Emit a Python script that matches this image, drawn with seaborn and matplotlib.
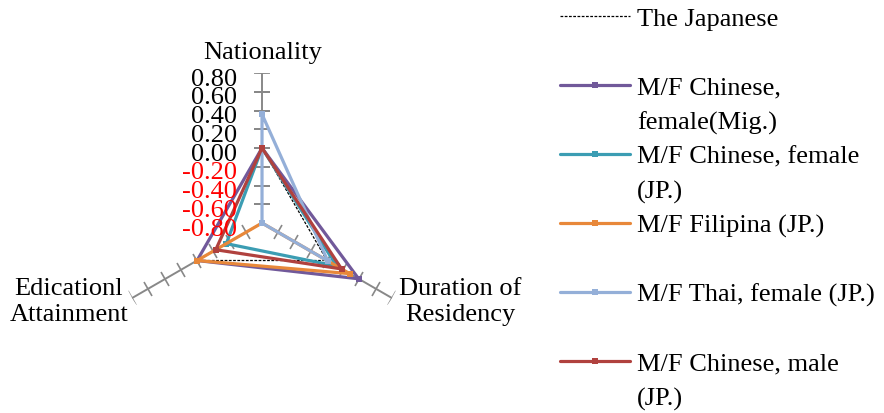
import numpy as np
import matplotlib.pyplot as plt
import seaborn as sns
from matplotlib.lines import Line2D
from matplotlib.markers import MarkerStyle
from matplotlib.transforms import Affine2D

# axes of the radar, in drawing order (clockwise from the top)
categories = ['Nationality', 'Duration of\nResidency', 'Edicationl\nAttainment']
tick_values = [-0.8, -0.6, -0.4, -0.2, 0.0, 0.2, 0.4, 0.6, 0.8]
tick_labels = ['-0.80', '-0.60', '-0.40', '-0.20', '0.00', '0.20', '0.40', '0.60', '0.80']

# values per series: Nationality, Duration of Residency, Educational Attainment
japanese = [0.0, 0.0, 0.0]
chinese_f_mig = [0.0, 0.39, 0.0]
chinese_f_jp = [0.0, 0.12, -0.36]
filipina_jp = [-0.8, 0.28, 0.0]
thai_f_jp = [0.36, 0.01, -0.8]
chinese_m_jp = [0.0, 0.18, -0.23]

series_values = [japanese, chinese_f_mig, chinese_f_jp, filipina_jp, thai_f_jp, chinese_m_jp]
series_colors = ['black', '#71599A', '#3B9DB3', '#E8883A', '#94AFD8', '#B0413E']
# legend rows (first line, second line or blank)
legend_rows = [
    ('The Japanese', ' '),
    ('M/F Chinese,', 'female(Mig.)'),
    ('M/F Chinese, female', '(JP.)'),
    ('M/F Filipina (JP.)', ' '),
    ('M/F Thai, female (JP.)', ' '),
    ('M/F Chinese, male', '(JP.)'),
]

sns.set_style('white')
plt.rcParams['font.family'] = ['Liberation Serif', 'DejaVu Serif']
plt.rcParams['text.color'] = 'black'

gray = '#888888'
fig = plt.figure(figsize=(8.84, 4.14), dpi=100)
ax = fig.add_axes([0.1267, 0.0966, 0.3394, 0.7246], projection='polar')
ax.set_theta_offset(np.pi / 2)
ax.set_theta_direction(-1)
ax.patch.set_visible(False)

angles = np.linspace(0, 2 * np.pi, len(categories), endpoint=False)
closed_angles = list(angles) + [2 * np.pi]

# spokes with perpendicular tick marks
for i, th in enumerate(angles):
    ax.plot([th, th], [tick_values[0], tick_values[-1]], color=gray, lw=1.4, zorder=1)
    tick_marker = MarkerStyle('_', transform=Affine2D().rotate_deg(-120 * i))
    ax.plot([th] * (len(tick_values) - 1), tick_values[1:], ls='none', marker=tick_marker,
            ms=11.5, mew=1.2, color=gray, zorder=1)

handles = []
for vals, color in zip(series_values, series_colors):
    closed = list(vals) + [vals[0]]
    if color == 'black':
        sns.lineplot(x=closed_angles, y=closed, ax=ax, sort=False, estimator=None,
                     color=color, linewidth=0.9, linestyle=(0, (2.2, 1.2)), zorder=2)
    else:
        sns.lineplot(x=closed_angles, y=closed, ax=ax, sort=False, estimator=None,
                     color=color, linewidth=2.3, marker='s', markersize=5,
                     markeredgewidth=0, zorder=3)
    handles.append(ax.lines[-1])

ax.set_ylim(tick_values[0], tick_values[-1])
ax.grid(False)
ax.spines['polar'].set_visible(False)
ax.set_xticks([])
ax.set_yticks([])
ax.set_xlabel('')
ax.set_ylabel('')

# radial value labels left of the Nationality spoke
for v, lab in zip(tick_values, tick_labels):
    ax.annotate(lab, xy=(0, v), xytext=(-25, -3), textcoords='offset pixels',
                ha='right', va='center_baseline', fontsize=19,
                color='red' if v < 0 else 'black')

# category labels
ax.annotate(categories[0], xy=(angles[0], tick_values[-1]), xytext=(1, 10),
            textcoords='offset pixels', ha='center', va='bottom', fontsize=19)
ax.annotate(categories[1], xy=(angles[1], tick_values[-1]), xytext=(7, -3),
            textcoords='offset pixels', ha='left', va='center', fontsize=19,
            multialignment='center')
ax.annotate(categories[2], xy=(angles[2], tick_values[-1]), xytext=(-4, -3),
            textcoords='offset pixels', ha='right', va='center', fontsize=19,
            multialignment='center')

# legend: each entry takes two rows, the handle sits on the first one
blank = Line2D([], [], color='none')
leg_handles, leg_labels = [], []
for h, (first, second) in zip(handles, legend_rows):
    leg_handles += [h, blank]
    leg_labels += [first, second]

fig.legend(leg_handles, leg_labels, loc='upper left', bbox_to_anchor=(0.6335, 0.981),
           frameon=False, borderpad=0, borderaxespad=0, handlelength=2.65,
           handletextpad=0.27, labelspacing=0.41, fontsize=19, numpoints=1)

fig.savefig('out.png', dpi=100)
